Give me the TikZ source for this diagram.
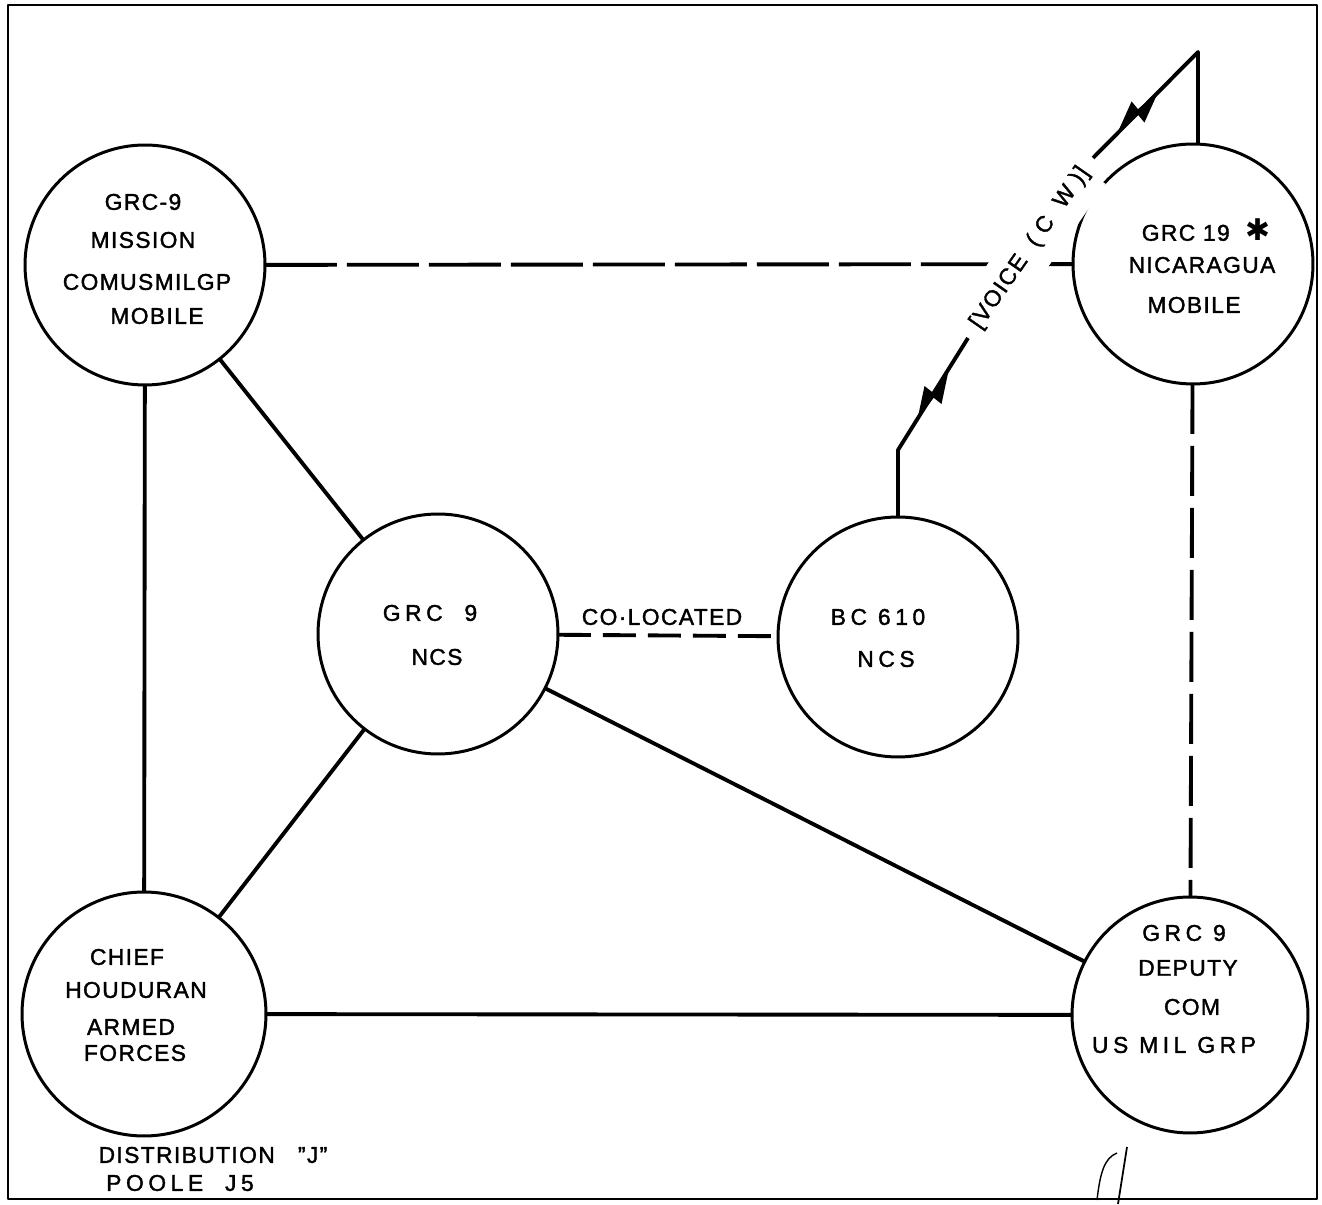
\documentclass[tikz,border=0pt]{standalone}
\usepackage{fontspec}
\setmainfont[LetterSpace=6,FakeBold=1.6]{Liberation Sans}
\newfontfamily\widefont[LetterSpace=20,FakeBold=1.6]{Liberation Sans}
\newfontfamily\symfont{DejaVu Sans}
\begin{document}
\begin{tikzpicture}[x=0.02cm,y=0.02cm,line join=round,font=\fontsize{13}{15}\selectfont,
  station/.style={circle,draw,line width=1.7pt,minimum size=4.8cm,inner sep=0pt,outer sep=0pt},
  lbl/.style={inner sep=0pt},
  link/.style={line width=2.2pt},
  dlink/.style={link,dash pattern=on 1.44cm off 0.2cm}]
\def\zap#1#2{\fill[shift={#1},rotate=#2] (-29,0) -- (3,12) -- (2,2) -- (29,0) -- (-3,-12) -- (-2,-2) -- cycle;}
\useasboundingbox (0,0) rectangle (1322,1204);
\draw[line width=1.6pt] (8,5) rectangle (1317,1199);
% stations
\node[station] (mis) at (145,939) {};
\node[station] (nic) at (1193,940) {};
\node[station] (ncs) at (438,570) {};
\node[station] (bc) at (898,567) {};
\node[station,minimum size=4.88cm] (chf) at (144,190) {};
\node[station,minimum size=4.72cm] (dep) at (1190,189) {};
% nets
\draw[dlink] (mis) -- (nic);
\draw[link,dash pattern=on 1cm off 0.24cm] (nic) -- (dep);
\draw[link,dash pattern=on 0.66cm off 0.24cm] (ncs) -- (bc);
\draw[link] (mis) -- (chf);
\draw[link] (mis) -- (ncs);
\draw[link] (ncs) -- (chf);
\draw[link] (ncs) -- (dep);
\draw[link] (chf) -- (dep);
% radio link
\coordinate (kink) at (898,754);
\coordinate (gap1) at (968,866);
\coordinate (gap2) at (1093,1046);
\coordinate (apex) at (1198,1152);
\node[lbl,fill=white,inner ysep=0.3cm,rotate=55.2] (voice) at (1030,956) {[VOICE\ \ (\ C\ \ W\ )]};
\draw[link] (bc.north) -- (kink) -- (gap1);
\draw[link] (gap2) -- (apex) -- (apex |- nic.north);
\zap{(933,809)}{57.5}
\zap{(1138,1092)}{45.3}
\node[lbl] at (662,587) (coloc) {CO·LOCATED};
% texts
\node[lbl] (mis1) at (143,1002) {GRC-9};
\node[lbl] (mis2) at (143,964) {MISSION};
\node[lbl] (mis3) at (147,922) {COMUSMILGP};
\node[lbl] (mis4) at (157,888) {MOBILE};
\node[lbl] (nic1) at (1206,974) {GRC 19\ \ {\symfont\fontsize{17}{17}\selectfont ✱}};
\node[lbl] (nic2) at (1202,939) {NICARAGUA};
\node[lbl] (nic3) at (1194,899) {MOBILE};
\node[lbl] (ncs1) at (430,591) {\widefont GRC\ \ 9};
\node[lbl] (ncs2) at (437,547) {NCS};
\node[lbl] (bc1) at (878,587) {\widefont BC 610};
\node[lbl] (bc2) at (886,545) {\widefont NCS};
\node[lbl] (chf1) at (127,247) {CHIEF};
\node[lbl] (chf2) at (136,214) {HOUDURAN};
\node[lbl] (chf3) at (131,177) {ARMED};
\node[lbl] (chf4) at (135,151) {FORCES};
\node[lbl] (dep1) at (1184,271) {\widefont GRC 9};
\node[lbl] (dep2) at (1188,236) {DEPUTY};
\node[lbl] (dep3) at (1192,197) {COM};
\node[lbl] (dep4) at (1174,159) {\widefont US MIL GRP};
\node[lbl] (dist1) at (213,49) {DISTRIBUTION\ \ \ "J"};
\node[lbl] (dist2) at (180,21) {\widefont POOLE\ \ J5};
% pencil mark
\draw[line width=0.8pt] (1097,4) .. controls (1100,30) and (1104,46) .. (1117,51);
\draw[line width=1pt] (1127,57) -- (1118,0);
\end{tikzpicture}
\end{document}
